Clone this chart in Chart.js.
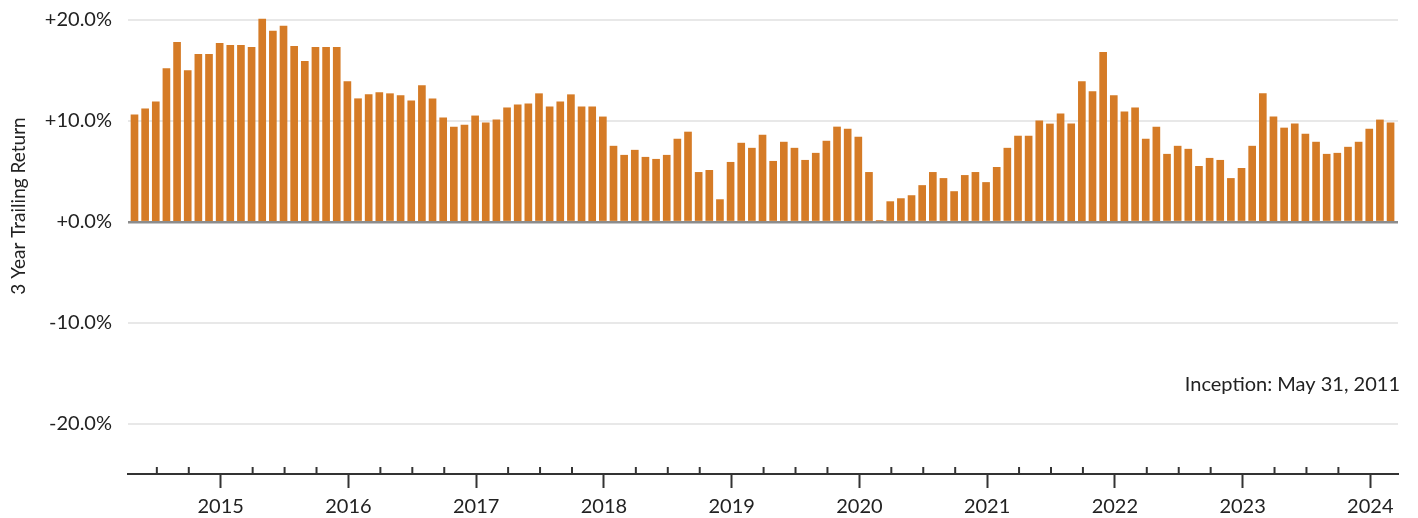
<!DOCTYPE html>
<html>
<head>
<meta charset="utf-8">
<script src="https://cdn.jsdelivr.net/npm/chart.js@4/dist/chart.umd.min.js"></script>
<style>
  html, body { margin: 0; padding: 0; background: #fff; }
  #wrap { width: 1418px; height: 518px; position: relative; }
</style>
</head>
<body>
<div id="wrap"><canvas id="myChart"></canvas></div>
<script>
// month-end dates, Apr 2014 .. Feb 2024
var firstYear = 2014, firstMonth = 4, monthCount = 119;
var months = [];
for (var i = 0; i < monthCount; i++) {
  var m = firstMonth - 1 + i;
  months.push({ year: firstYear + Math.floor(m / 12), month: (m % 12) + 1 });
}

// 3 year trailing return, %
var trailingReturn = [
  10.6, 11.2, 11.9, 15.2, 17.8, 15.0, 16.6, 16.6, 17.7,
  17.5, 17.5, 17.3, 20.1, 18.9, 19.4, 17.4, 15.9, 17.3, 17.3, 17.3, 13.9,
  12.2, 12.6, 12.8, 12.7, 12.5, 12.0, 13.5, 12.2, 10.3, 9.4, 9.6, 10.5,
  9.8, 10.1, 11.3, 11.6, 11.7, 12.7, 11.4, 11.9, 12.6, 11.4, 11.4, 10.4,
  7.5, 6.6, 7.1, 6.4, 6.2, 6.6, 8.2, 8.9, 4.9, 5.1, 2.2, 5.9,
  7.8, 7.3, 8.6, 6.0, 7.9, 7.3, 6.1, 6.8, 8.0, 9.4, 9.2, 8.4,
  4.9, 0.1, 2.0, 2.3, 2.6, 3.6, 4.9, 4.3, 3.0, 4.6, 4.9, 3.9,
  5.4, 7.3, 8.5, 8.5, 10.0, 9.7, 10.7, 9.7, 13.9, 12.9, 16.8, 12.5,
  10.9, 11.3, 8.2, 9.4, 6.7, 7.5, 7.2, 5.5, 6.3, 6.1, 4.3, 5.3,
  7.5, 12.7, 10.4, 9.3, 9.7, 8.7, 7.9, 6.7, 6.8, 7.4, 7.9, 9.2,
  10.1, 9.8
];

var yTicks = [-20, -10, 0, 10, 20];
var yTitle = '3 Year Trailing Return';
var note = 'Inception: May 31, 2011';

// year ticks sit just after each December bar, quarter ticks after Mar/Jun/Sep
var tickShift = 0.1;
var yearTicks = [], quarterTicks = [];
months.forEach(function (d, i) {
  if (d.month === 12) yearTicks.push(i + tickShift);
  if (d.month === 3 || d.month === 6 || d.month === 9) quarterTicks.push(i + tickShift);
});

var barData = trailingReturn.map(function (v, i) { return { x: i, y: v }; });

var extras = {
  id: 'extras',
  afterDraw: function (chart) {
    var c = chart.ctx, xs = chart.scales.x, area = chart.chartArea;
    c.save();
    // small quarter ticks above the axis line
    c.strokeStyle = '#333';
    c.lineWidth = 2;
    quarterTicks.forEach(function (q) {
      var px = xs.getPixelForValue(q);
      if (px < area.left || px > area.right) return;
      c.beginPath();
      c.moveTo(px, area.bottom);
      c.lineTo(px, area.bottom - 7);
      c.stroke();
    });
    // inception note
    c.fillStyle = '#222';
    c.font = '20px Lato';
    c.textAlign = 'right';
    c.textBaseline = 'alphabetic';
    c.fillText(note, area.right + 2, 391);
    // y axis title
    c.translate(19, 206);
    c.rotate(-Math.PI / 2);
    c.textAlign = 'center';
    c.textBaseline = 'middle';
    c.font = '19px Lato';
    c.fillText(yTitle, 0, 0);
    c.restore();
  }
};

var ctx = document.getElementById('myChart').getContext('2d');
var myChart = new Chart(ctx, {
  type: 'bar',
  data: {
    datasets: [{
      data: barData,
      backgroundColor: '#d57b26',
      barThickness: 7
    }]
  },
  options: {
    responsive: true,
    maintainAspectRatio: false,
    animation: false,
    layout: { padding: { top: 15, right: 20, left: 0, bottom: 0 } },
    plugins: {
      legend: { display: false },
      tooltip: { enabled: false }
    },
    scales: {
      x: {
        type: 'linear',
        offset: false,
        min: -0.61,
        max: 118.7,
        afterBuildTicks: function (s) {
          s.ticks = yearTicks.map(function (v) { return { value: v }; });
        },
        afterFit: function (s) {
          s.height = 44;
          s.paddingLeft = 0;
          s.paddingRight = 0;
        },
        grid: {
          offset: false,
          drawOnChartArea: false,
          drawTicks: true,
          tickLength: 14,
          tickColor: '#333',
          tickWidth: 2
        },
        border: { display: true, color: '#333', width: 2 },
        ticks: {
          autoSkip: false,
          maxRotation: 0,
          padding: 7,
          color: '#222',
          font: { family: 'Lato', size: 20 },
          callback: function (v) {
            var d = months[Math.round(v)];
            return d ? String(d.year + 1) : '';
          }
        }
      },
      y: {
        min: -25,
        max: 20.5,
        afterBuildTicks: function (s) {
          s.ticks = yTicks.map(function (v) { return { value: v }; });
        },
        afterFit: function (s) {
          s.width = 128;
          s.paddingTop = 0;
          s.paddingBottom = 0;
        },
        border: { display: false },
        grid: {
          drawTicks: false,
          color: function (c) { return c.tick && c.tick.value === 0 ? '#8c8c8c' : '#e8e8e8'; },
          lineWidth: function (c) { return c.tick && c.tick.value === 0 ? 2.5 : 2; }
        },
        ticks: {
          padding: 16,
          color: '#222',
          font: { family: 'Lato', size: 20 },
          callback: function (v) {
            return (v >= 0 ? '+' : '') + v.toFixed(1) + '%';
          }
        }
      }
    }
  },
  plugins: [extras]
});
</script>
</body>
</html>
